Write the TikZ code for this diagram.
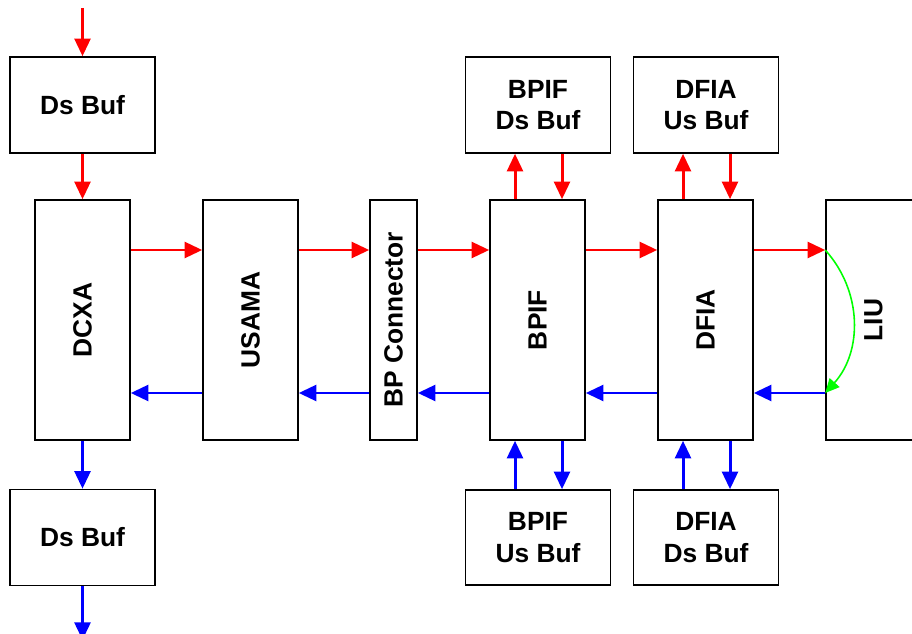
\documentclass[tikz,border=0pt]{standalone}
\usepackage{fontspec}
\setmainfont{Liberation Sans}
\usetikzlibrary{positioning, calc, arrows.meta}

\tikzset{
  box/.style={draw, line width=0.9pt, inner sep=0pt, align=center,
    font=\fontsize{15}{18}\selectfont\bfseries},
  unit/.style={box, minimum width=4.8cm, minimum height=1.9cm, rotate=90},
  buf/.style={box, minimum width=2.9cm, minimum height=1.92cm},
  fwd/.style={red, line width=1.7pt, -{Triangle[length=10pt, width=9pt]}},
  bwd/.style={blue, line width=1.7pt, -{Triangle[length=10pt, width=9pt]}},
  loop/.style={green, line width=0.9pt, -{Triangle[length=8pt, width=7.5pt]}}
}

\begin{document}
\begin{tikzpicture}[x=0.02cm, y=-0.02cm]

\useasboundingbox (0, 0) rectangle (912, 634);

% the chain of cards
\node [unit] (dcxa) at (82.5, 320) {DCXA};
\node [unit] (usama) at (250.5, 320) {USAMA};
\node [unit, minimum height=0.94cm] (bpconn) at (393.5, 320) {BP Connector};
\node [unit] (bpif) at (537.5, 320) {BPIF};
\node [unit] (dfia) at (705.5, 320) {DFIA};
\node [unit] (liu) at (873.5, 320) {LIU};

% buffers
\node [buf] (dsbufin) at (82.5, 105) {Ds Buf};
\node [buf] (dsbufout) at (82.5, 537.5) {Ds Buf};
\node [buf] (bpifdsbuf) at (538, 105) {BPIF\\Ds Buf};
\node [buf] (dfiausbuf) at (706, 105) {DFIA\\Us Buf};
\node [buf, minimum height=1.9cm] (bpifusbuf) at (538, 537.5) {BPIF\\Us Buf};
\node [buf, minimum height=1.9cm] (dfiadsbuf) at (706, 537.5) {DFIA\\Ds Buf};

\coordinate (fwd) at (0, 250);
\coordinate (bwd) at (0, 393);
\coordinate (c1) at (515, 0);
\coordinate (c2) at (562, 0);
\coordinate (c3) at (683, 0);
\coordinate (c4) at (730, 0);
\coordinate (src) at (82.5, 8);
\coordinate (sink) at (82.5, 640);

% downstream (red)
\draw [fwd] (src) -- (dsbufin);
\draw [fwd] (dsbufin) -- (dcxa);
\draw [fwd] (dcxa.south |- fwd) -- (usama.north |- fwd);
\draw [fwd] (usama.south |- fwd) -- (bpconn.north |- fwd);
\draw [fwd] (bpconn.south |- fwd) -- (bpif.north |- fwd);
\draw [fwd] (bpif.south |- fwd) -- (dfia.north |- fwd);
\draw [fwd] (dfia.south |- fwd) -- (liu.north |- fwd);
\draw [fwd] (bpif.east -| c1) -- (bpifdsbuf.south -| c1);
\draw [fwd] (bpifdsbuf.south -| c2) -- (bpif.east -| c2);
\draw [fwd] (dfia.east -| c3) -- (dfiausbuf.south -| c3);
\draw [fwd] (dfiausbuf.south -| c4) -- (dfia.east -| c4);

% loopback in LIU
\draw [loop] (liu.north |- fwd) to[bend left=42] (liu.north |- bwd);

% upstream (blue)
\draw [bwd] (liu.north |- bwd) -- (dfia.south |- bwd);
\draw [bwd] (dfia.north |- bwd) -- (bpif.south |- bwd);
\draw [bwd] (bpif.north |- bwd) -- (bpconn.south |- bwd);
\draw [bwd] (bpconn.north |- bwd) -- (usama.south |- bwd);
\draw [bwd] (usama.north |- bwd) -- (dcxa.south |- bwd);
\draw [bwd] (bpifusbuf.north -| c1) -- (bpif.west -| c1);
\draw [bwd] (bpif.west -| c2) -- (bpifusbuf.north -| c2);
\draw [bwd] (dfiadsbuf.north -| c3) -- (dfia.west -| c3);
\draw [bwd] (dfia.west -| c4) -- (dfiadsbuf.north -| c4);
\draw [bwd] (dcxa) -- (dsbufout);
\draw [bwd] (dsbufout) -- (sink);

\end{tikzpicture}
\end{document}
